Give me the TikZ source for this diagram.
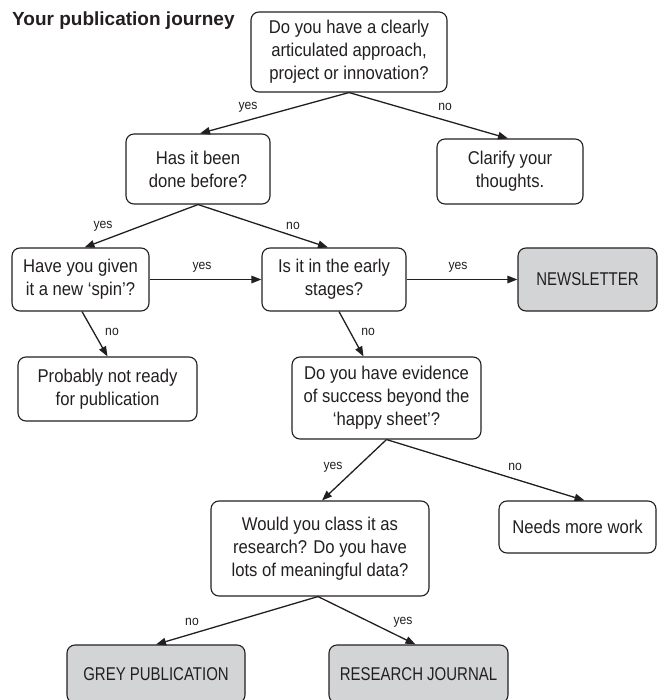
\documentclass[tikz,border=0pt]{standalone}
\usepackage{fontspec}
\setmainfont[FakeStretch=0.9]{Liberation Sans}
\newfontfamily\capsfont[FakeStretch=0.81]{Liberation Sans}
\newfontfamily\titlefont{Liberation Sans}
\usetikzlibrary{arrows.meta}
\definecolor{ink}{RGB}{35,31,32}
\definecolor{boxgrey}{RGB}{211,212,214}
\begin{document}
\begin{tikzpicture}[x=1pt,y=-1pt,
  every node/.style={text=ink},
  qbox/.style={draw=ink, line width=1.1pt, rounded corners=8pt, fill=white,
    inner sep=0pt, align=center, font=\fontsize{18.5}{23}\selectfont},
  endbox/.style={qbox, fill=boxgrey, font=\capsfont\fontsize{18.5}{23}\selectfont},
  arr/.style={draw=ink, line width=1.3pt, -{Triangle[length=10pt,width=7.5pt]}},
  lbl/.style={font=\fontsize{13.5}{15}\selectfont, inner sep=0pt}
]
\useasboundingbox (0,0) rectangle (662,700);
\clip (0,0) rectangle (662,700);

\node[anchor=west, font=\titlefont\bfseries\fontsize{19}{22}\selectfont, inner sep=0pt] (title) at (12,21) {Your publication journey};

\node[qbox, minimum width=196pt, minimum height=80pt] (q1) at (349,52)
  {Do you have a clearly\\articulated approach,\\project or innovation?};
\node[qbox, minimum width=144pt, minimum height=70pt] (q2) at (198,169)
  {Has it been\\done before?};
\node[qbox, minimum width=146pt, minimum height=65pt] (clarify) at (510,171.5)
  {Clarify your\\thoughts.};
\node[qbox, minimum width=137pt, minimum height=63pt] (spin) at (80.5,279.5)
  {Have you given\\it a new ‘spin’?};
\node[qbox, minimum width=144pt, minimum height=63pt] (early) at (334,279.5)
  {Is it in the early\\stages?};
\node[endbox, minimum width=139pt, minimum height=63pt] (news) at (587.5,279.5)
  {NEWSLETTER};
\node[qbox, minimum width=179pt, minimum height=64pt] (probably) at (107.5,389)
  {Probably not ready\\for publication};
\node[qbox, minimum width=189pt, minimum height=82pt] (evidence) at (386.5,398)
  {Do you have evidence\\of success beyond the\\‘happy sheet’?};
\node[qbox, minimum width=218pt, minimum height=95pt] (would) at (320,548.5)
  {Would you class it as\\research? Do you have\\lots of meaningful data?};
\node[qbox, minimum width=157pt, minimum height=52pt] (needs) at (577.5,527)
  {Needs more work};
\node[endbox, minimum width=178pt, minimum height=58pt] (grey) at (156,674)
  {GREY PUBLICATION};
\node[endbox, minimum width=179pt, minimum height=58pt] (journal) at (418.5,674)
  {RESEARCH JOURNAL};

\draw[arr] (q1.south) -- ([xshift=2pt]q2.north);
\draw[arr] (q1.south) -- ([xshift=-2pt]clarify.north);
\draw[arr] (q2.south) -- ([xshift=4pt]spin.north);
\draw[arr] (q2.south) -- ([xshift=-6pt]early.north);
\draw[arr] (spin.east) -- (early.west);
\draw[arr] (early.east) -- (news.west);
\draw[arr] ([xshift=1.5pt]spin.south) -- (probably.north);
\draw[arr] ([xshift=5pt]early.south) -- ([xshift=-23pt]evidence.north);
\draw[arr] (evidence.south) -- ([xshift=2pt]would.north);
\draw[arr] (evidence.south) -- ([xshift=7pt]needs.north);
\draw[arr] ([xshift=-2pt]would.south) -- (grey.north);
\draw[arr] ([xshift=-2pt]would.south) -- ([xshift=-3pt]journal.north);

\node[lbl] (l1) at (248,107) {yes};
\node[lbl] (l2) at (445,107) {no};
\node[lbl] (l3) at (103,226) {yes};
\node[lbl] (l4) at (293,226) {no};
\node[lbl] (l5) at (202,267) {yes};
\node[lbl] (l6) at (458,267) {yes};
\node[lbl] (l7) at (112,332) {no};
\node[lbl] (l8) at (368,332) {no};
\node[lbl] (l9) at (333,467) {yes};
\node[lbl] (l10) at (515,467) {no};
\node[lbl] (l11) at (192,622) {no};
\node[lbl] (l12) at (403,622) {yes};
\end{tikzpicture}
\end{document}
